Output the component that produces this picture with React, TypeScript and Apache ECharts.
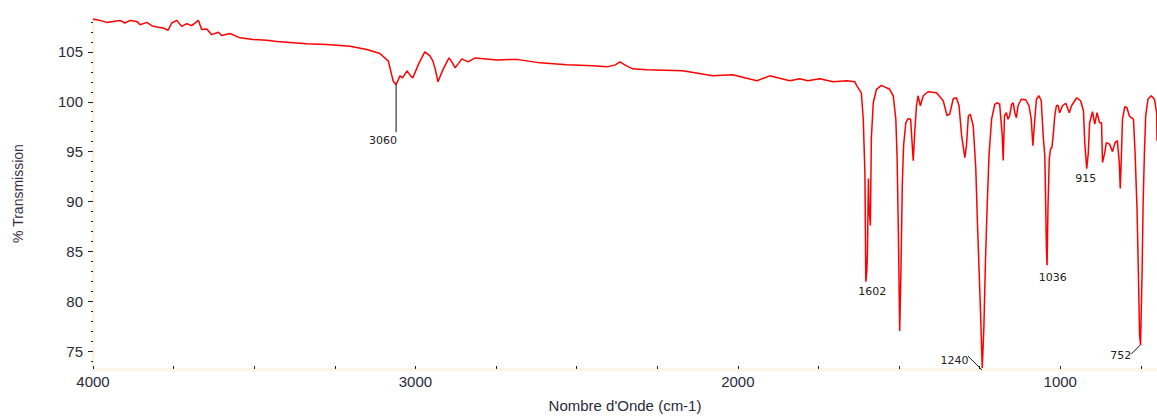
import React, { useEffect, useRef } from 'react';
import * as echarts from 'echarts';

// Spectrum (wavenumber cm-1, % transmission)
const WAVENUMBERS = [
  4000, 3995, 3978, 3958, 3938, 3916, 3901, 3885, 3864, 3854, 3833, 3818, 3802, 3782, 3767, 3756,
  3740, 3725, 3709, 3694, 3673, 3663, 3647, 3632, 3611, 3601, 3575, 3544, 3503, 3461, 3430, 3399,
  3337, 3275, 3203, 3151, 3110, 3084, 3069, 3060, 3048, 3040, 3026, 3015, 3008, 2990, 2971, 2955,
  2946, 2938, 2930, 2915, 2896, 2887, 2877, 2865, 2856, 2837, 2815, 2780, 2747, 2685, 2614, 2530,
  2450, 2406, 2380, 2366, 2345, 2326, 2282, 2171, 2078, 2016, 1941, 1901, 1839, 1808, 1783, 1746,
  1705, 1662, 1637, 1631, 1617, 1611, 1606, 1603, 1600, 1598, 1595, 1593, 1589, 1586, 1580, 1570,
  1555, 1529, 1518, 1510, 1506, 1502, 1498, 1494, 1490, 1486, 1479, 1472, 1464, 1461, 1456, 1452,
  1446, 1441, 1434, 1425, 1410, 1384, 1363, 1351, 1343, 1332, 1322, 1314, 1306, 1296, 1291, 1285,
  1279, 1270, 1262, 1257, 1252, 1247, 1242, 1237, 1232, 1227, 1221, 1213, 1203, 1196, 1188, 1180,
  1177, 1173, 1167, 1162, 1157, 1151, 1146, 1141, 1136, 1131, 1121, 1107, 1097, 1090, 1085, 1079,
  1074, 1066, 1059, 1053, 1048, 1045, 1043, 1041, 1038, 1034, 1030, 1026, 1022, 1017, 1012, 1007,
  1002, 993, 983, 972, 965, 949, 937, 928, 924, 918, 913, 909, 900, 893, 886, 878,
  872, 869, 862, 857, 847, 838, 830, 823, 817, 814, 811, 807, 800, 793, 786, 780,
  773, 768, 762, 758, 754, 751, 746, 743, 739, 735, 728, 718, 708, 701, 700,
];
const TRANSMISSION = [
  108.25, 108.28, 108.16, 107.96, 108.06, 108.16, 107.9, 108.16, 108.06, 107.73, 107.96, 107.63, 107.5, 107.4, 107.17, 107.9,
  108.16, 107.56, 107.83, 107.63, 108.16, 107.24, 107.3, 106.73, 106.97, 106.64, 106.84, 106.41, 106.24, 106.17, 106.05, 105.97,
  105.81, 105.74, 105.57, 105.24, 104.84, 104.07, 102.08, 101.7, 102.6, 102.4, 103.1, 102.6, 102.4, 103.8, 105.0, 104.6,
  104.1, 103.2, 102.0, 103.2, 104.4, 104.0, 103.4, 103.9, 104.3, 104.0, 104.4, 104.3, 104.2, 104.25, 103.9, 103.7,
  103.6, 103.5, 103.7, 104.0, 103.6, 103.3, 103.2, 103.1, 102.6, 102.7, 102.1, 102.6, 102.1, 102.3, 102.1, 102.3,
  102.0, 102.1, 102.0, 101.6, 100.9, 98.25, 92.9, 81.95, 83.0, 85.0, 92.3, 89.3, 87.6, 96.3, 99.9, 101.25,
  101.65, 101.25, 100.6, 98.25, 94.3, 86.6, 77.0, 83.3, 91.6, 95.6, 97.9, 98.3, 98.25, 96.6, 94.1, 96.6,
  99.6, 100.6, 99.6, 100.6, 101.0, 100.9, 100.1, 98.6, 98.75, 100.3, 100.4, 99.6, 96.6, 94.4, 95.6, 98.6,
  98.75, 97.6, 93.3, 87.95, 83.3, 78.6, 73.3, 77.3, 84.0, 89.3, 94.6, 98.25, 99.75, 99.9, 99.75, 96.6,
  94.1, 98.6, 98.9, 98.25, 98.6, 99.75, 99.9, 98.9, 98.4, 99.6, 100.25, 100.2, 99.6, 98.25, 95.6, 98.25,
  100.25, 100.6, 100.1, 96.6, 94.6, 89.3, 85.3, 83.6, 89.6, 94.3, 95.3, 95.4, 96.6, 98.6, 99.6, 99.65,
  98.9, 99.6, 99.85, 98.9, 99.6, 100.4, 100.1, 99.1, 95.9, 93.3, 94.9, 97.9, 99.0, 97.75, 98.9, 97.9,
  97.9, 93.9, 94.9, 95.9, 95.75, 95.0, 95.9, 96.1, 93.9, 91.3, 93.9, 98.25, 99.5, 99.4, 98.6, 98.4,
  98.25, 94.9, 89.3, 83.3, 76.6, 75.6, 83.3, 89.9, 94.9, 98.6, 100.25, 100.6, 100.25, 98.9, 96.1,
];

// Peak annotations
const PEAK_WN = [3060, 1602, 1240, 1036, 915, 752];
const PEAK_T = [101.7, 81.95, 73.3, 83.6, 93.3, 75.6];

// Axis ticks and labels
const X_LABELS = [4000, 3000, 2000, 1000];
const X_TICKS = [4000, 3750, 3500, 3250, 3000, 2750, 2500, 2250, 2000, 1750, 1500, 1250, 1000, 750];
const Y_LABELS = [75, 80, 85, 90, 95, 100, 105];
const Y_MINOR = [74, 75, 76, 77, 78, 79, 80, 81, 82, 83, 84, 85, 86, 87, 88, 89, 90, 91, 92, 93, 94, 95, 96, 97, 98, 99, 100, 101, 102, 103, 104, 105, 106, 107, 108];

const LABEL_LAYOUT: Record<number, { dx: number; dy: number; line?: number[] }> = {
  3060: { dx: -13, dy: 56, line: [0, 0, 0, 47.5] },
  1602: { dx: 6, dy: 10 },
  1240: { dx: -28.5, dy: -8, line: [-15, -12, -1, 2] },
  1036: { dx: 4, dy: 12 },
  915: { dx: -2, dy: 9.5 },
  752: { dx: -19.5, dy: 10, line: [-9, 9, 0, 0] },
};

const AXIS_TEXT = '#2a2a3a';
const AXIS_FONT = '"Liberation Sans", Arial, sans-serif';

export default function App() {
  const ref = useRef<HTMLDivElement>(null);

  useEffect(() => {
    if (!ref.current) return;
    const chart = echarts.init(ref.current, undefined, { renderer: 'svg' });
    const spectrum = WAVENUMBERS.map((w, i) => [w, TRANSMISSION[i]]);
    const peaks = PEAK_WN.map((w, i) => [w, PEAK_T[i]]);
    const yMin = 73.2;
    const yMax = 108.4;

    chart.setOption({
      animation: false,
      backgroundColor: '#ffffff',
      grid: { left: 93, right: 0, top: 18, bottom: 47, containLabel: false },
      xAxis: {
        type: 'value',
        inverse: true,
        min: 700,
        max: 4000,
        name: "Nombre d'Onde (cm-1)",
        nameLocation: 'middle',
        nameGap: 29,
        nameTextStyle: { fontSize: 15, color: AXIS_TEXT, fontFamily: AXIS_FONT },
        axisLine: { show: true, onZero: false, lineStyle: { color: '#fdf5e4', width: 3 } },
        axisTick: { show: true, customValues: X_TICKS, inside: true, length: 3, lineStyle: { color: '#222', width: 1 } },
        axisLabel: {
          customValues: X_LABELS,
          fontSize: 15,
          color: AXIS_TEXT,
          fontFamily: AXIS_FONT,
          margin: 5,
          formatter: (v: number) => String(v),
        },
        splitLine: { show: false },
      },
      yAxis: [
        {
          type: 'value',
          min: yMin,
          max: yMax,
          name: '% Transmission',
          nameLocation: 'middle',
          nameGap: 68,
          nameTextStyle: { fontSize: 14, color: '#3a2f45', fontFamily: AXIS_FONT },
          axisLine: { show: true, onZero: false, lineStyle: { color: '#fdf5e4', width: 3 } },
          axisTick: { show: true, customValues: Y_MINOR, length: 2, lineStyle: { color: '#222', width: 1 } },
          axisLabel: {
            customValues: Y_LABELS,
            fontSize: 15,
            color: AXIS_TEXT,
            fontFamily: AXIS_FONT,
            margin: 10,
            formatter: (v: number) => String(v),
          },
          splitLine: { show: false },
        },
        {
          type: 'value',
          min: yMin,
          max: yMax,
          position: 'left',
          axisLine: { show: false },
          axisTick: { show: true, customValues: Y_LABELS, length: 5, lineStyle: { color: '#222', width: 1 } },
          axisLabel: { show: false },
          splitLine: { show: false },
        },
      ],
      series: [
        {
          type: 'line',
          data: spectrum,
          xAxisIndex: 0,
          yAxisIndex: 0,
          showSymbol: false,
          symbol: 'none',
          clip: false,
          lineStyle: { color: '#ff0000', width: 1.5 },
          z: 3,
        },
        {
          type: 'custom',
          data: peaks,
          xAxisIndex: 0,
          yAxisIndex: 0,
          clip: false,
          z: 4,
          renderItem: (params: any, api: any) => {
            const w = api.value(0);
            const t = api.value(1);
            const p = api.coord([w, t]);
            const L = LABEL_LAYOUT[w] || { dx: 0, dy: 10 };
            const children: any[] = [];
            if (L.line) {
              children.push({
                type: 'line',
                shape: { x1: p[0] + L.line[0], y1: p[1] + L.line[1], x2: p[0] + L.line[2], y2: p[1] + L.line[3] },
                style: { stroke: '#111', lineWidth: 1 },
              });
            }
            children.push({
              type: 'text',
              x: p[0] + L.dx,
              y: p[1] + L.dy,
              style: {
                text: String(w),
                fill: '#222',
                font: '11px "DejaVu Sans", Verdana, sans-serif',
                align: 'center',
                verticalAlign: 'middle',
                textAlign: 'center',
                textVerticalAlign: 'middle',
              },
            });
            return { type: 'group', children };
          },
        },
      ],
    });

    return () => chart.dispose();
  }, []);

  return (
    <div
      ref={ref}
      style={{ position: 'absolute', left: 0, top: 0, width: 1157, height: 418 }}
    />
  );
}
